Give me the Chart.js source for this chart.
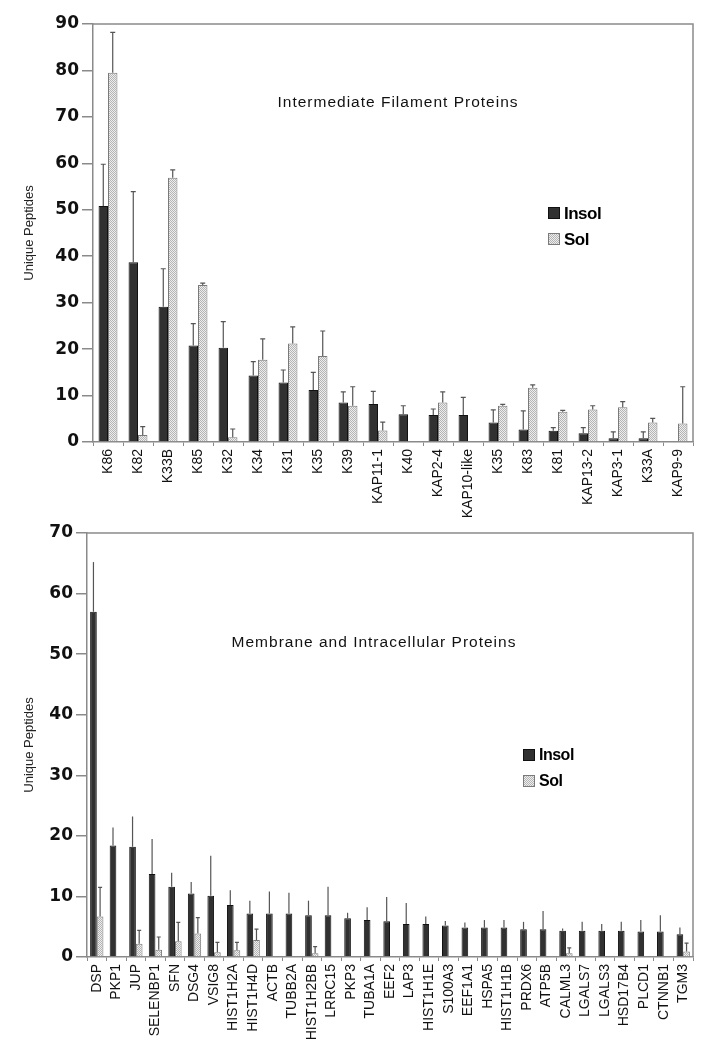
<!DOCTYPE html>
<html><head><meta charset="utf-8">
<script src="https://cdn.jsdelivr.net/npm/chart.js@4.4.1/dist/chart.umd.min.js"></script>
<style>
html,body{margin:0;padding:0;background:#fff;width:708px;height:1050px;overflow:hidden;}
.wrap{position:absolute;left:0;width:708px;}
#w1{top:0;height:540px;}
#w2{top:500px;height:550px;}
</style></head><body>
<div class="wrap" id="w2"><canvas id="c2"></canvas></div>
<div class="wrap" id="w1"><canvas id="c1"></canvas></div>
<script>
// ---------- Data: top chart ----------
const topCategories = ['K86','K82','K33B','K85','K32','K34','K31','K35','K39','KAP11-1','K40','KAP2-4','KAP10-like','K35','K83','K81','KAP13-2','KAP3-1','K33A','KAP9-9'];
const topInsol    = [50.8,38.7,29.1,20.8,20.3,14.3,12.8,11.2,8.5,8.2,6.0,5.8,5.8,4.2,2.7,2.4,1.9,0.8,0.8,0];
const topInsolErr = [9.0,15.2,8.2,4.7,5.6,3.0,2.7,3.8,2.3,2.7,1.8,1.3,3.8,2.7,4.0,0.7,1.2,1.4,1.4,0];
const topSol      = [79.5,1.5,56.9,33.8,1.0,17.7,21.2,18.5,7.8,2.5,0,8.5,0,7.8,11.7,6.5,7.0,7.5,4.2,4.0];
const topSolErr   = [8.7,1.8,1.7,0.4,1.8,4.5,3.6,5.4,4.1,1.8,0,2.3,0,0.3,0.6,0.3,0.8,1.2,0.9,7.9];
const topTicks = [0,10,20,30,40,50,60,70,80,90];

// ---------- Data: bottom chart ----------
const botCategories = ['DSP','PKP1','JUP','SELENBP1','SFN','DSG4','VSIG8','HIST1H2A','HIST1H4D','ACTB','TUBB2A','HIST1H2BB','LRRC15','PKP3','TUBA1A','EEF2','LAP3','HIST1H1E','S100A3','EEF1A1','HSPA5','HIST1H1B','PRDX6','ATP5B','CALML3','LGALS7','LGALS3','HSD17B4','PLCD1','CTNNB1','TGM3'];
const botInsol    = [57.0,18.4,18.2,13.7,11.6,10.5,10.1,8.6,7.2,7.2,7.2,6.9,6.9,6.4,6.1,5.9,5.45,5.45,5.2,4.85,4.85,4.85,4.6,4.6,4.35,4.35,4.35,4.35,4.2,4.2,3.75];
const botInsolErr = [8.2,3.0,5.0,5.8,2.3,1.9,6.6,2.4,2.1,3.6,3.4,2.4,4.7,0.9,2.1,4.0,3.45,1.25,0.75,0.85,1.25,1.25,1.2,3.0,0.35,1.45,1.1,1.45,1.9,2.7,1.1];
const botSol      = [6.7,0,2.2,1.2,2.6,3.9,0.8,1.1,2.8,0,0,0.6,0,0,0,0,0,0,0,0,0,0,0,0,0.6,0,0,0,0,0,0.9];
const botSolErr   = [4.8,0,2.2,2.1,3.1,2.6,1.6,1.3,1.8,0,0,1.1,0,0,0,0,0,0,0,0,0,0,0,0,0.9,0,0,0,0,0,1.4];
const botTicks = [0,10,20,30,40,50,60,70];

const seriesNames = ['Insol','Sol'];

// ---------- Styles ----------
function makePattern() {
  const p = document.createElement('canvas');
  p.width = 2; p.height = 2;
  const g = p.getContext('2d');
  g.fillStyle = '#eeeeee'; g.fillRect(0,0,2,2);
  g.fillStyle = '#b4b4b4';
  g.fillRect(0,0,1,1); g.fillRect(1,1,1,1);
  return document.createElement('canvas').getContext('2d').createPattern(p,'repeat');
}
const solFill = makePattern();
const insolFill = '#313131';

const errorBarPlugin = {
  id: 'errorBars',
  afterDatasetsDraw(chart, args, opts) {
    const ctx = chart.ctx, ys = chart.scales.y;
    chart.data.datasets.forEach((ds, di) => {
      const meta = chart.getDatasetMeta(di);
      const errs = ds.errors || [];
      meta.data.forEach((bar, i) => {
        const e = errs[i];
        if (!e) return;
        const yTop = ys.getPixelForValue(ds.data[i] + e);
        ctx.save();
        ctx.strokeStyle = '#555'; ctx.lineWidth = 1.2;
        ctx.beginPath();
        ctx.moveTo(bar.x, bar.y); ctx.lineTo(bar.x, yTop);
        const cap = ds.errCap || 0;
        if (cap) { ctx.moveTo(bar.x - cap, yTop); ctx.lineTo(bar.x + cap, yTop); }
        ctx.stroke();
        ctx.restore();
      });
    });
  }
};

const framePlugin = {
  id: 'frame',
  afterDraw(chart, args, opts) {
    const {ctx, chartArea: a} = chart;
    ctx.save();
    ctx.strokeStyle = '#8a8a8a'; ctx.lineWidth = 1.5;
    ctx.beginPath();
    ctx.moveTo(a.left, a.top); ctx.lineTo(a.right, a.top); ctx.lineTo(a.right, a.bottom);
    ctx.stroke();
    // title inside plot
    ctx.fillStyle = '#111';
    ctx.font = '15.5px "Liberation Sans", Arial, sans-serif';
    ctx.letterSpacing = '1px';
    ctx.textAlign = 'center'; ctx.textBaseline = 'middle';
    ctx.fillText(opts.title, opts.titleX, opts.titleY);
    ctx.letterSpacing = '0px';
    // legend
    const ds = chart.data.datasets;
    ctx.textAlign = 'left';
    ctx.font = 'bold ' + opts.legendFont + 'px "Liberation Sans", Arial, sans-serif';
    ds.forEach((d, i) => {
      const y = opts.legendY + i * opts.legendGap;
      ctx.fillStyle = d.backgroundColor;
      ctx.fillRect(opts.legendX, y, 12, 12);
      ctx.strokeStyle = d.borderColor; ctx.lineWidth = 1;
      ctx.strokeRect(opts.legendX + 0.5, y + 0.5, 11, 11);
      ctx.fillStyle = '#000';
      ctx.letterSpacing = '-0.5px';
      ctx.fillText(d.label, opts.legendX + 16, y + 7);
      ctx.letterSpacing = '0px';
    });
    ctx.restore();
  }
};

function makeChart(id, cats, insol, insolErr, sol, solErr, ticks, layout, frameOpts, catPct) {
  const maxV = ticks[ticks.length - 1];
  return new Chart(document.getElementById(id), {
    type: 'bar',
    data: {
      labels: cats,
      datasets: [
        { label: seriesNames[0], data: insol, errors: insolErr, errCap: layout.capI,
          backgroundColor: insolFill, borderColor: '#111', borderWidth: 1 },
        { label: seriesNames[1], data: sol, errors: solErr, errCap: layout.capS,
          backgroundColor: solFill, borderColor: '#7a7a7a', borderWidth: 1 }
      ]
    },
    options: {
      responsive: true, maintainAspectRatio: false, animation: false,
      datasets: { bar: { categoryPercentage: catPct, barPercentage: 1.0 } },
      layout: { padding: { top: layout.top, right: 15, left: 0, bottom: 0 } },
      plugins: { legend: { display: false }, tooltip: { enabled: false }, frame: frameOpts },
      scales: {
        x: {
          grid: { display: true, drawOnChartArea: false, offset: true, tickLength: 4, color: '#8a8a8a', lineWidth: 1 },
          border: { display: true, color: '#8a8a8a', width: 1.5 },
          ticks: { autoSkip: false, maxRotation: 90, minRotation: 90, padding: 3, color: '#111',
                   font: { family: '"Liberation Sans", Arial, sans-serif', size: 14 } },
          afterFit(s) { s.height = layout.xh; }
        },
        y: {
          min: 0, max: maxV,
          afterBuildTicks(s) { s.ticks = ticks.map(v => ({ value: v })); },
          grid: { display: true, drawOnChartArea: false, tickLength: 11, color: '#8a8a8a', lineWidth: 1.5 },
          border: { display: true, color: '#8a8a8a', width: 1.5 },
          ticks: { padding: 3, color: '#111', font: { family: '"DejaVu Sans", sans-serif', size: 17, weight: 'bold' } },
          title: { display: true, text: 'Unique Peptides', color: '#222', padding: { top: 22, bottom: 0 },
                   font: { family: '"Liberation Sans", Arial, sans-serif', size: 13 } },
          afterFit(s) { s.width = layout.yw; }
        }
      }
    },
    plugins: [errorBarPlugin, framePlugin]
  });
}

makeChart('c1', topCategories, topInsol, topInsolErr, topSol, topSolErr, topTicks,
  { top: 24, xh: 98, yw: 93, capI: 2.5, capS: 2.5 },
  { title: 'Intermediate Filament Proteins', titleX: 398, titleY: 103,
    legendX: 548, legendY: 207, legendGap: 26, legendFont: 17 }, 0.63);

makeChart('c2', botCategories, botInsol, botInsolErr, botSol, botSolErr, botTicks,
  { top: 33, xh: 93, yw: 87, capI: 0, capS: 2 },
  { title: 'Membrane and Intracellular Proteins', titleX: 374, titleY: 143,
    legendX: 523, legendY: 249, legendGap: 26, legendFont: 16 }, 0.68);
</script>
</body></html>
